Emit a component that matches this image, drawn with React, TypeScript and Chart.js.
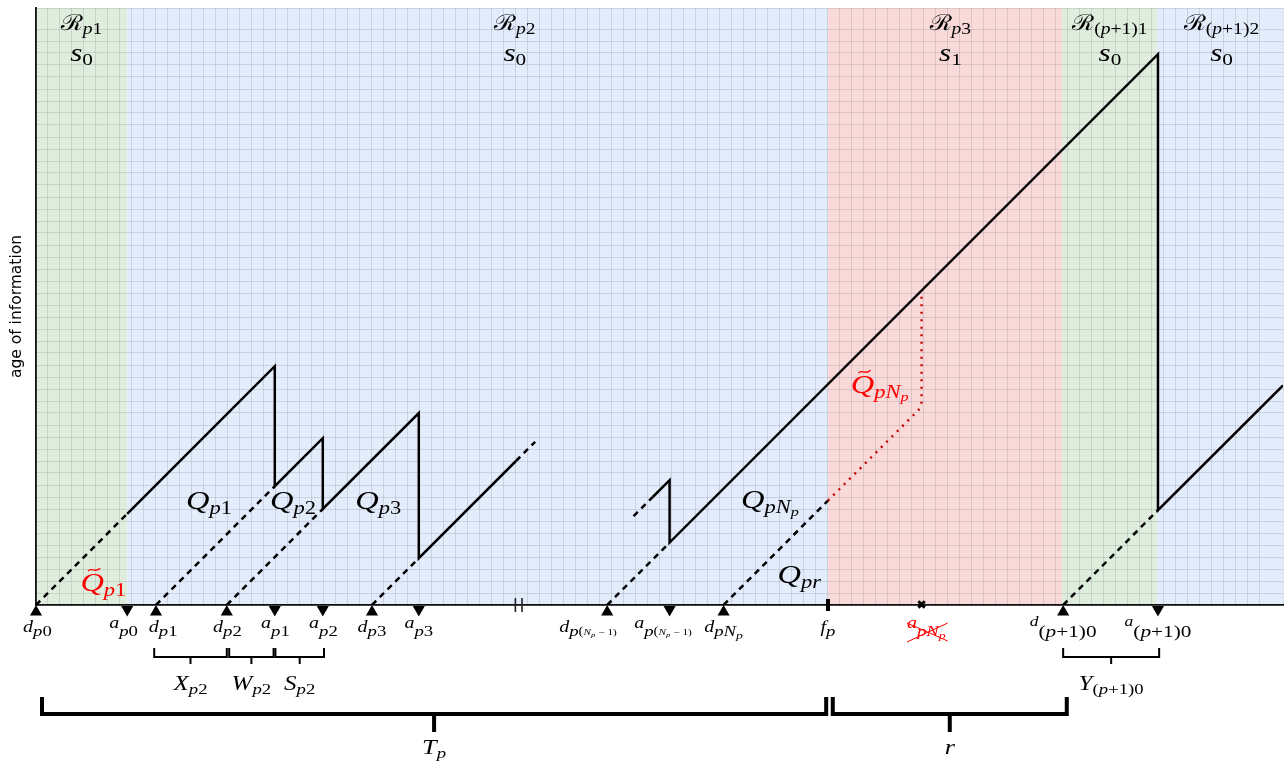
import React, { useEffect, useRef } from "react";
import { Chart, registerables } from "chart.js";

Chart.register(...registerables);

// ---------- data (time and age in grid units) ----------
const X_MAX = 103.92;
const Y_MAX = 49.75;

// departure instants d_p0, d_p1, d_p2, d_p3, d_p(Np-1), d_pNp, d_(p+1)0
const departures = [0, 10, 15.9, 28, 47.6, 57.3, 85.6];
// arrival instants a_p0, a_p1, a_p2, a_p3, a_p(Np-1), a_(p+1)0
const arrivals = [7.6, 19.9, 23.9, 31.9, 52.8, 93.5];
const lostArrival = 73.8; // a_pNp (lost)
const frameEnd = 66; // f_p
const breakMarks = [39.95, 40.5];

// background regions
const regionBounds = [0, 7.6, 66, 85.5, 93.4, X_MAX];
const regionColors = ["#dfeddd", "#e3ecfb", "#f9dad9", "#dfeddd", "#e3ecfb"];
const regionNames = ["p1", "p2", "p3", "(p+1)1", "(p+1)2"];
const regionStates = ["0", "0", "1", "0", "0"];
const regionLabelX = [3.8, 39.9, 76.2, 89.5, 98.8];

// age of information curves: [time, age]
const solidA: number[][] = [
  [7.6, 7.6], [19.9, 19.9], [19.9, 9.9], [23.9, 13.9], [23.9, 8.0],
  [31.9, 16.0], [31.9, 3.9], [40.0, 12.0],
];
const dashTailA: number[][] = [[40.0, 12.0], [41.6, 13.6]];
const dashHeadB: number[][] = [[49.8, 7.4], [51.4, 9.0]];
const solidB: number[][] = [
  [51.4, 9.0], [52.8, 10.4], [52.8, 5.2], [93.5, 45.9], [93.5, 7.9], [X_MAX, 18.3],
];
const dashedRamps: number[][][] = [
  [[0, 0], [7.6, 7.6]],
  [[10, 0], [19.9, 9.9]],
  [[15.9, 0], [23.9, 8.0]],
  [[28, 0], [31.9, 3.9]],
  [[47.6, 0], [52.8, 5.2]],
  [[57.3, 0], [66, 8.7]],
  [[85.6, 0], [93.5, 7.9]],
];
const lostPath: number[][] = [[66, 8.7], [73.55, 16.25], [73.8, 16.9], [73.8, 26.2]];

// text labels
const eventLabels: { x: number; main: string; sub: string; kind: string }[] = [
  { x: 0.12, main: "d", sub: "p0", kind: "d" },
  { x: 7.3, main: "a", sub: "p0", kind: "a" },
  { x: 10.6, main: "d", sub: "p1", kind: "d" },
  { x: 15.95, main: "d", sub: "p2", kind: "d" },
  { x: 19.95, main: "a", sub: "p1", kind: "a" },
  { x: 23.95, main: "a", sub: "p2", kind: "a" },
  { x: 28.0, main: "d", sub: "p3", kind: "d" },
  { x: 31.9, main: "a", sub: "p3", kind: "a" },
  { x: 46.0, main: "d", sub: "p(Np-1)", kind: "d" },
  { x: 52.25, main: "a", sub: "p(Np-1)", kind: "a" },
  { x: 57.3, main: "d", sub: "pNp", kind: "d" },
  { x: 66.0, main: "f", sub: "p", kind: "d" },
  { x: 74.2, main: "a", sub: "pNp", kind: "lost" },
  { x: 85.6, main: "d", sub: "(p+1)0", kind: "small" },
  { x: 93.5, main: "a", sub: "(p+1)0", kind: "small" },
];
const qLabels: { x: number; y: number; sub: string; red: boolean; tilde: boolean; sub2?: string }[] = [
  { x: 12.5, y: 8.0, sub: "p1", red: false, tilde: false },
  { x: 19.5, y: 8.0, sub: "p2", red: false, tilde: false },
  { x: 26.6, y: 8.0, sub: "p3", red: false, tilde: false },
  { x: 58.75, y: 8.1, sub: "pN", sub2: "p", red: false, tilde: false },
  { x: 61.8, y: 1.85, sub: "pr", red: false, tilde: false },
  { x: 3.7, y: 1.2, sub: "p1", red: true, tilde: true },
  { x: 67.9, y: 17.7, sub: "pN", sub2: "p", red: true, tilde: true },
];
const smallBrackets: { from: number; to: number; label: string; sub: string }[] = [
  { from: 9.85, to: 15.9, label: "X", sub: "p2" },
  { from: 16.1, to: 19.8, label: "W", sub: "p2" },
  { from: 19.95, to: 24.0, label: "S", sub: "p2" },
  { from: 85.6, to: 93.6, label: "Y", sub: "(p+1)0" },
];
const bigBrackets: { from: number; to: number; label: string; sub: string }[] = [
  { from: 0.5, to: 65.85, label: "T", sub: "p" },
  { from: 66.4, to: 85.9, label: "r", sub: "" },
];

// ---------- drawing helpers ----------
const MATH = "'Liberation Serif','DejaVu Serif',serif";
const SX = 1.25; // horizontal stretch of the math lettering
type Part = [string, number, number];

function splitStyle(text: string) {
  const out: { t: string; it: boolean }[] = [];
  for (const ch of text) {
    const it = /[A-Za-z]/.test(ch);
    const last = out[out.length - 1];
    if (last && last.it === it) last.t += ch;
    else out.push({ t: ch, it });
  }
  return out;
}

function drawMath(
  ctx: CanvasRenderingContext2D,
  parts: Part[],
  x: number,
  y: number,
  color: string,
  align: "center" | "left",
  sx: number = SX
) {
  const pieces: { t: string; it: boolean; size: number; dy: number; w: number }[] = [];
  for (const [text, size, dy] of parts)
    for (const s of splitStyle(text)) pieces.push({ ...s, size, dy, w: 0 });
  let total = 0;
  for (const p of pieces) {
    ctx.font = `${p.it ? "italic " : ""}${p.size}px ${MATH}`;
    p.w = ctx.measureText(p.t).width * sx;
    total += p.w;
  }
  let cx = align === "center" ? x - total / 2 : x;
  const left = cx;
  ctx.fillStyle = color;
  ctx.textAlign = "left";
  ctx.textBaseline = "alphabetic";
  for (const p of pieces) {
    ctx.font = `${p.it ? "italic " : ""}${p.size}px ${MATH}`;
    ctx.save();
    ctx.translate(cx, y + p.dy);
    ctx.scale(sx, 1);
    ctx.fillText(p.t, 0, 0);
    ctx.restore();
    cx += p.w;
  }
  return { left, width: total, first: pieces[0] ? pieces[0].w : 0 };
}

function subParts(sub: string, size: number, dy: number): Part[] {
  if (sub === "p(Np-1)") {
    return [["p", size, dy], ["(", size - 3, dy - 1], ["N", size - 6, dy - 1], ["p", size - 8, dy + 1], [" \u2212 1)", size - 6, dy - 1]];
  }
  if (sub === "pNp") {
    return [["pN", size, dy], ["p", size - 4, dy + 3]];
  }
  return [[sub, size, dy]];
}

const annotations = {
  id: "annotations",
  beforeDraw(chart: any) {
    const { ctx, chartArea, scales } = chart;
    const xs = scales.x;
    ctx.save();
    for (let i = 0; i < regionColors.length; i++) {
      const l = xs.getPixelForValue(regionBounds[i]);
      const r = xs.getPixelForValue(regionBounds[i + 1]);
      ctx.fillStyle = regionColors[i];
      ctx.fillRect(l, chartArea.top, r - l, chartArea.bottom - chartArea.top);
    }
    ctx.restore();
  },
  afterDraw(chart: any) {
    const { ctx, chartArea, scales } = chart;
    const xs = scales.x;
    const ys = scales.y;
    const B = chartArea.bottom;
    const T = chartArea.top;
    ctx.save();

    // y axis title
    ctx.save();
    ctx.translate(17, (chartArea.top + chartArea.bottom) / 2);
    ctx.rotate(-Math.PI / 2);
    ctx.font = "15.5px 'DejaVu Sans', sans-serif";
    ctx.fillStyle = "#000";
    ctx.textAlign = "center";
    ctx.textBaseline = "middle";
    ctx.fillText("age of information", 0, 0);
    ctx.restore();

    // region labels
    for (let i = 0; i < regionNames.length; i++) {
      const cx = xs.getPixelForValue(regionLabelX[i]);
      drawMath(ctx, [["\u211B", 22, 0], ...subParts(regionNames[i], 17, 4)], cx, T + 22, "#000", "center", 1.15);
      drawMath(ctx, [["s", 25, 0], [regionStates[i], 17, 4]], cx, T + 53, "#000", "center");
    }

    // event labels
    for (const e of eventLabels) {
      const cx = xs.getPixelForValue(e.x);
      const base = B + 27;
      let parts: Part[];
      if (e.kind === "a" || e.kind === "lost") parts = [[e.main, 16, -4], ...subParts(e.sub, 15, 4)];
      else if (e.kind === "small") parts = [[e.main, 14, -6], ...subParts(e.sub, 17, 5)];
      else parts = [[e.main, 16, 0], ...subParts(e.sub, 15, 4)];
      const color = e.kind === "lost" ? "#ff0000" : "#000";
      const r = drawMath(ctx, parts, cx, base, color, "center");
      if (e.kind === "lost") {
        ctx.strokeStyle = "#ff0000";
        ctx.lineWidth = 1;
        ctx.beginPath();
        ctx.moveTo(r.left, base + 10);
        ctx.lineTo(r.left + r.width + 2, base - 9);
        ctx.moveTo(r.left, base - 9);
        ctx.lineTo(r.left + r.width + 2, base + 9);
        ctx.stroke();
      }
    }

    // Q labels
    for (const q of qLabels) {
      const x = xs.getPixelForValue(q.x);
      const y = ys.getPixelForValue(q.y);
      const color = q.red ? "#ff0000" : "#000";
      const parts: Part[] = [["Q", 26, 0], [q.sub, 18, 5]];
      if (q.sub2) parts.push([q.sub2, 13, 8]);
      const r = drawMath(ctx, parts, x, y, color, "left");
      if (q.tilde) {
        const tx = r.left + r.first / 2 + 2;
        const ty = y - 21;
        ctx.strokeStyle = color;
        ctx.lineWidth = 1.4;
        ctx.beginPath();
        ctx.moveTo(tx - 6, ty + 1.5);
        ctx.bezierCurveTo(tx - 3, ty - 3, tx + 2, ty + 4, tx + 6, ty - 1.5);
        ctx.stroke();
      }
    }

    // small brackets
    ctx.strokeStyle = "#000";
    ctx.lineWidth = 2;
    ctx.lineCap = "butt";
    for (const b of smallBrackets) {
      const l = xs.getPixelForValue(b.from);
      const r = xs.getPixelForValue(b.to);
      const m = (l + r) / 2;
      ctx.beginPath();
      ctx.moveTo(l, B + 43);
      ctx.lineTo(l, B + 52);
      ctx.lineTo(r, B + 52);
      ctx.lineTo(r, B + 43);
      ctx.moveTo(m, B + 52);
      ctx.lineTo(m, B + 59);
      ctx.stroke();
      drawMath(ctx, [[b.label, 20, 0], [b.sub, 15, 4]], m, B + 85, "#000", "center");
    }

    // big brackets
    ctx.lineWidth = 4;
    for (const b of bigBrackets) {
      const l = xs.getPixelForValue(b.from);
      const r = xs.getPixelForValue(b.to);
      const m = (l + r) / 2;
      ctx.beginPath();
      ctx.moveTo(l, B + 92);
      ctx.lineTo(l, B + 109);
      ctx.lineTo(r, B + 109);
      ctx.lineTo(r, B + 92);
      ctx.moveTo(m, B + 109);
      ctx.lineTo(m, B + 127);
      ctx.stroke();
      const parts: Part[] = [[b.label, 21, 0]];
      if (b.sub) parts.push([b.sub, 15, 4]);
      drawMath(ctx, parts, m, B + 149, "#000", "center");
    }

    ctx.restore();
  },
};

const toPts = (arr: number[][]) => arr.map(([x, y]) => ({ x, y }));

export default function App() {
  const ref = useRef<HTMLCanvasElement | null>(null);

  useEffect(() => {
    document.body.style.margin = "0";
    document.body.style.overflow = "hidden";
    const canvas = ref.current;
    if (!canvas) return;

    const lineBase = {
      showLine: true,
      pointRadius: 0,
      borderColor: "#000",
      borderWidth: 2.5,
      fill: false,
      tension: 0,
      borderJoinStyle: "miter" as const,
    };
    const datasets: any[] = [];
    datasets.push({ ...lineBase, data: toPts(solidA) });
    datasets.push({ ...lineBase, data: toPts(solidB) });
    datasets.push({ ...lineBase, data: toPts(dashTailA), borderDash: [6, 5] });
    datasets.push({ ...lineBase, data: toPts(dashHeadB), borderDash: [6, 5] });
    for (const seg of dashedRamps) datasets.push({ ...lineBase, data: toPts(seg), borderDash: [6, 5] });
    datasets.push({
      ...lineBase,
      data: toPts(lostPath),
      borderColor: "#c80000",
      borderWidth: 2.4,
      borderDash: [2, 5.5],
      borderJoinStyle: "round",
    });
    // markers
    datasets.push({
      data: departures.map((x) => ({ x, y: -0.58 })),
      showLine: false,
      pointStyle: "triangle",
      pointRadius: 7,
      backgroundColor: "#000",
      borderWidth: 0,
      clip: false,
    });
    datasets.push({
      data: arrivals.map((x) => ({ x, y: -0.38 })),
      showLine: false,
      pointStyle: "triangle",
      rotation: 180,
      pointRadius: 7,
      backgroundColor: "#000",
      borderWidth: 0,
      clip: false,
    });
    datasets.push({
      data: [{ x: lostArrival, y: 0.05 }],
      showLine: false,
      pointStyle: "crossRot",
      pointRadius: 4.5,
      borderColor: "#000",
      borderWidth: 3,
      clip: false,
    });
    datasets.push({
      data: [{ x: frameEnd, y: 0 }],
      showLine: false,
      pointStyle: "line",
      rotation: 90,
      pointRadius: 6,
      borderColor: "#000",
      borderWidth: 4,
      clip: false,
    });
    datasets.push({
      data: breakMarks.map((x) => ({ x, y: 0 })),
      showLine: false,
      pointStyle: "line",
      rotation: 90,
      pointRadius: 7,
      borderColor: "#222",
      borderWidth: 1.6,
      clip: false,
    });

    const chart = new Chart(canvas, {
      type: "scatter",
      data: { datasets },
      options: {
        animation: false,
        responsive: false,
        events: [],
        layout: { autoPadding: false, padding: { left: 36, top: 8, right: 3, bottom: 157 } },
        plugins: { legend: { display: false }, tooltip: { enabled: false }, title: { display: false } },
        scales: {
          x: {
            type: "linear",
            min: 0,
            max: X_MAX,
            ticks: { display: false, stepSize: 1, maxTicksLimit: 300 },
            grid: { color: "rgba(110,120,140,0.22)", lineWidth: 1, drawTicks: false },
            border: { display: true, color: "#111", width: 1.8 },
            afterFit: (s: any) => {
              s.height = 0;
              s.paddingLeft = 0;
              s.paddingRight = 0;
            },
          },
          y: {
            type: "linear",
            min: 0,
            max: Y_MAX,
            ticks: { display: false, stepSize: 1, maxTicksLimit: 300 },
            grid: { color: "rgba(110,120,140,0.22)", lineWidth: 1, drawTicks: false },
            border: { display: true, color: "#111", width: 1.8 },
            afterFit: (s: any) => {
              s.width = 0;
              s.paddingTop = 0;
              s.paddingBottom = 0;
            },
          },
        },
      } as any,
      plugins: [annotations],
    });
    return () => chart.destroy();
  }, []);

  return (
    <div style={{ position: "absolute", left: 0, top: 0, width: 1286, height: 762, background: "#fff" }}>
      <canvas ref={ref} width={1286} height={762} style={{ width: 1286, height: 762, display: "block" }} />
    </div>
  );
}
